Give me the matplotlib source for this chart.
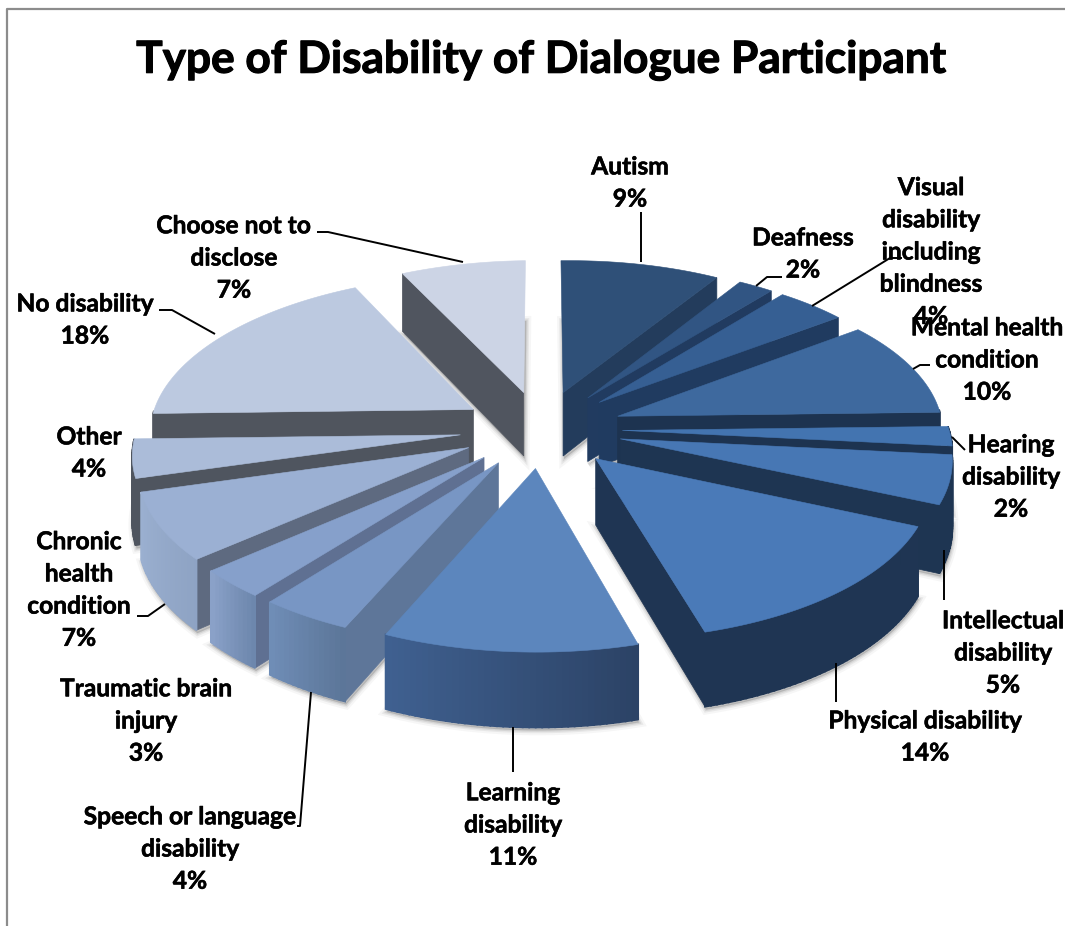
import numpy as np
import matplotlib
matplotlib.use("Agg")
import matplotlib.pyplot as plt
import matplotlib.patheffects as pe
from matplotlib.patches import Polygon
from matplotlib.colors import to_rgb

names = ["Autism", "Deafness", "Visual\ndisability\nincluding\nblindness", "Mental health\ncondition",
         "Hearing\ndisability", "Intellectual\ndisability", "Physical disability", "Learning\ndisability",
         "Speech or language\ndisability", "Traumatic brain\ninjury", "Chronic\nhealth\ncondition",
         "Other", "No disability", "Choose not to\ndisclose"]
values = [9, 2, 4, 10, 2, 5, 14, 11, 4, 3, 7, 4, 18, 7]
title = "Type of Disability of Dialogue Participant"

top_colors = ["#2f5078", "#315583", "#365f93", "#3e699e", "#4374b0", "#4777b4", "#4a7ab8",
              "#5c86bd", "#7896c4", "#86a0cb", "#9bb0d3", "#abbcd9", "#bcc9e0", "#ccd4e5"]
cut_colors = ["#233c5c", "#213b60", "#203b60", "#1d3350", "#1d3350", "#1e3552", "#1f3553",
              "#2c4366", "#5e7699", "#5f7092", "#5e6a80", "#4f555f", "#50555e", "#50555f"]
arc_start = ["#233c5c", "#213b60", "#203b60", "#1d3350", "#1d3350", "#1e3552", "#1f3553",
             "#2c4366", "#5c7699", "#6d87ad", "#8ea3c4", "#4f555f", "#50555e", "#50555f"]
arc_end = ["#233c5c", "#213b60", "#203b60", "#1d3350", "#1d3350", "#1e3552", "#1f3553",
           "#3f6090", "#6f8db6", "#8aa1c8", "#9bb0d0", "#4f555f", "#50555e", "#50555f"]

label_pos = [(630, 183), (803, 254), (931, 252), (987, 360), (1011, 477), (1003, 653), (925, 737),
             (513, 825), (190, 849), (146, 721), (79, 590), (89, 453), (85, 320), (234, 258)]
leaders = [[(641, 212), (641, 262)],
           [(782, 277), (767, 277), (756, 286)],
           [(902, 258), (890, 258), (812, 306)],
           [(930, 365), (920, 365), (913, 369)],
           [(965, 450), (952, 437)],
           [(944, 550), (944, 600)],
           [(836, 663), (836, 702)],
           [(513, 727), (513, 772)],
           [(311, 692), (300, 826), (297, 826)],
           [(137, 616), (148, 616), (165, 604)],
           [(159, 310), (172, 310), (215, 334)],
           [(317, 232), (328, 232), (463, 262)]]

CX, CY, FX, FY, P, H, EXPL = 541, 429, 325, 154, 0.11, 65, 0.25
SHEAR, TILT = 9, 4
PITCH = 32.2

plt.rcParams["font.family"] = ["Lato", "DejaVu Sans"]
fig = plt.figure(figsize=(10.65, 9.26), dpi=100, facecolor="white")
ax = fig.add_axes([0, 0, 1, 1])
ax.set_xlim(0, 1065)
ax.set_ylim(926, 0)
ax.axis("off")


def proj(X, Y, Z=0.0):
    X, Y = np.asarray(X, float), np.asarray(Y, float)
    s = 1 / (1 + P * Y)
    return np.column_stack([CX + (FX * X + SHEAR * np.maximum(-Y, 0)) * s,
                            CY - (FY * Y + TILT * X) * s + H * Z * s])


v = np.array(values, float)
edges = np.radians(np.concatenate([[0], np.cumsum(v)]) / v.sum() * 360)
slices = []
for i in range(len(v)):
    a0, a1 = edges[i], edges[i + 1]
    mid = (a0 + a1) / 2
    ox, oy = EXPL * np.sin(mid), EXPL * np.cos(mid)
    th = np.linspace(a0, a1, max(int(np.degrees(a1 - a0)) + 2, 4))
    slices.append((np.cos(mid), i, ox, oy, th))
slices.sort(key=lambda t: -t[0])

# soft shadows under the slices
for _, i, ox, oy, th in slices:
    bx = np.concatenate([[ox], ox + np.sin(th)])
    by = np.concatenate([[oy], oy + np.cos(th)])
    pts = proj(bx, by, 1.0) + np.array([1, 3])
    for lw, al in ((7, 0.05), (4, 0.09), (2, 0.12)):
        ax.add_patch(Polygon(pts, closed=True, fc="#555555", ec="#555555", lw=lw, alpha=al, zorder=1))

z = 2
for _, i, ox, oy, th in slices:
    ax_x = ox + np.sin(th)
    ax_y = oy + np.cos(th)
    # cut faces that look towards the viewer
    for k, show in ((0, np.sin(th[0]) < -1e-6), (-1, np.sin(th[-1]) > 1e-6)):
        if not show:
            continue
        tp = proj([ox, ax_x[k]], [oy, ax_y[k]], 0.0)
        bt = proj([ox, ax_x[k]], [oy, ax_y[k]], 1.0)
        ax.add_patch(Polygon(np.vstack([tp, bt[::-1]]), closed=True, fc=cut_colors[i],
                             ec=cut_colors[i], lw=0.5, zorder=z))
    # outer wall, front-facing part only
    c0, c1 = np.array(to_rgb(arc_start[i])), np.array(to_rgb(arc_end[i]))
    tp = proj(ax_x, ax_y, 0.0)
    bt = proj(ax_x, ax_y, 1.0)
    n = len(th) - 1
    for j in range(n):
        if np.cos((th[j] + th[j + 1]) / 2) > 0.02:
            continue
        col = c0 + (c1 - c0) * j / max(n - 1, 1)
        ax.add_patch(Polygon([tp[j], tp[j + 1], bt[j + 1], bt[j]], closed=True, fc=col, ec=col,
                             lw=1.3, zorder=z))
    # top
    pts = proj(np.concatenate([[ox], ax_x]), np.concatenate([[oy], ax_y]), 0.0)
    ax.add_patch(Polygon(pts, closed=True, fc=top_colors[i], ec=top_colors[i], lw=0.4, zorder=z))
    z += 1

for path in leaders:
    xs, ys = zip(*path)
    ax.plot(xs, ys, color="black", lw=1.4, zorder=50, solid_capstyle="butt")

for name, val, (x, y) in zip(names, values, label_pos):
    lines = name.split("\n") + [f"{val}%"]
    for k, line in enumerate(lines):
        ax.text(x, y + (k - (len(lines) - 1) / 2) * PITCH, line, ha="center", va="center",
                fontsize=17.7, fontweight="bold", color="black", zorder=60,
                path_effects=[pe.withStroke(linewidth=0.4, foreground="black")])

ax.text(541, 60, title, ha="center", va="center", fontsize=31.8, fontweight="bold", color="black",
        zorder=60, path_effects=[pe.withStroke(linewidth=0.8, foreground="black")])

ax.plot([7, 7, 1065], [926, 9, 9], color="#8c8c8c", lw=1.6, zorder=70)

fig.savefig("out.png", dpi=100)
